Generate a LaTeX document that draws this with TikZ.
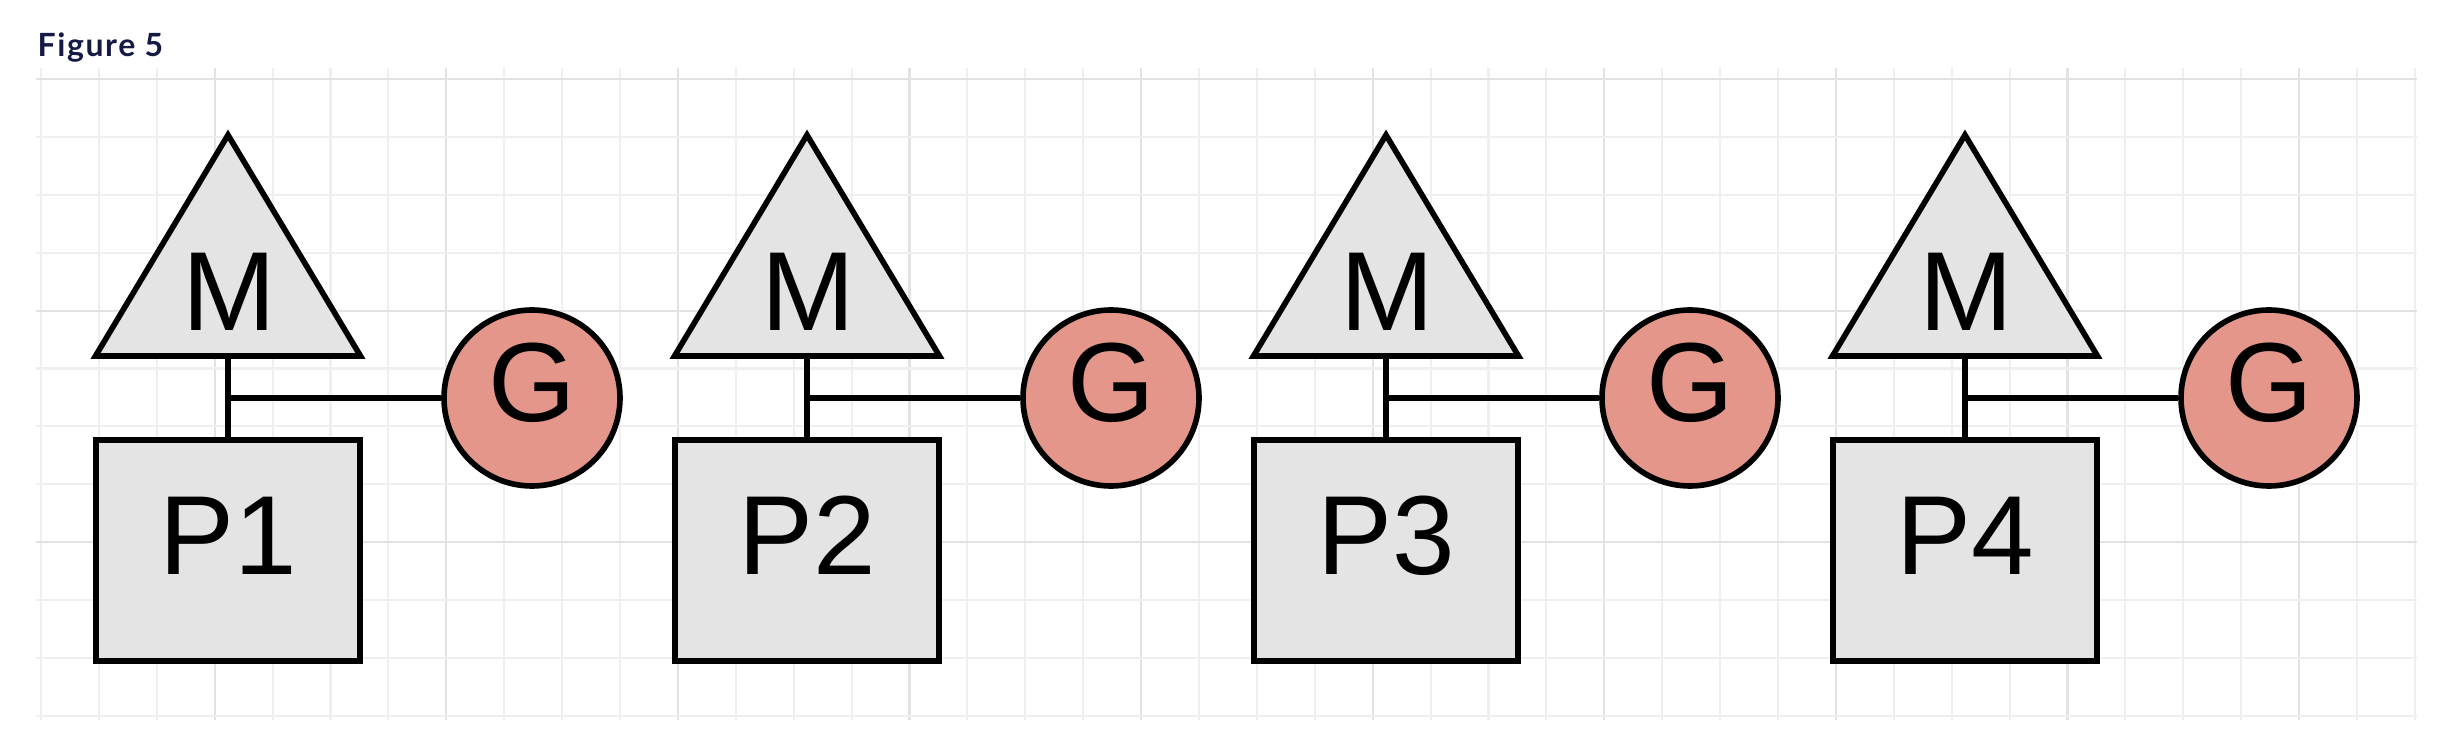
\documentclass[tikz,border=0pt]{standalone}
\usepackage{fontspec}
\setmainfont{Liberation Sans}
\newfontfamily\titlefont[LetterSpace=5]{Lato}
\usetikzlibrary{shapes.geometric}
\definecolor{Navy}{HTML}{151A45}
\definecolor{Shade}{HTML}{E4E4E4}
\definecolor{Salmon}{HTML}{E39689}
\definecolor{GridMinor}{HTML}{EFEFEF}
\definecolor{GridMajor}{HTML}{E2E2E2}
\newcommand{\bigtxt}{\fontsize{32}{36}\selectfont}
\tikzset{gridline/.style={line width=.6pt,draw=GridMinor},link/.style={line width=1.6pt,draw=black},ltxt/.style={font=\bigtxt,inner sep=0pt}}

\begin{document}
\begin{tikzpicture}[
  pbox/.style={draw=black,fill=Shade,line width=1.6pt,minimum width=2.64cm,minimum height=2.21cm,inner sep=0pt,font=\bigtxt,text height=.81cm,text depth=.32cm},
  gdot/.style={circle,draw=black,fill=Salmon,line width=1.6pt,minimum size=1.76cm,inner sep=0pt,font=\bigtxt,text height=.81cm,text depth=.34cm},
  mtri/.style={isosceles triangle,isosceles triangle stretches,shape border rotate=90,draw=black,fill=Shade,line width=1.6pt,minimum width=2.65cm,minimum height=2.21cm,inner sep=0pt,outer sep=0pt,anchor=apex}
]
\useasboundingbox (0,0) rectangle (24.58,7.50);
% background grid
\foreach \k in {0,...,41} \draw[gridline] ({0.41+0.579*\k},0.30) -- ++(0,6.52);
\foreach \k in {3,7,...,39} \draw[gridline,draw=GridMajor] ({0.41+0.579*\k},0.30) -- ++(0,6.52);
\foreach \k in {0,...,11} \draw[gridline] (0.36,{6.71-0.579*\k}) -- (24.17,{6.71-0.579*\k});
\foreach \k in {0,4,8} \draw[gridline,draw=GridMajor] (0.36,{6.71-0.579*\k}) -- (24.17,{6.71-0.579*\k});

\node[anchor=base west,inner sep=0pt,text=Navy,font=\titlefont\bfseries\fontsize{9.1}{11}\selectfont] (title) at (0.37,6.93) {Figure 5};

\node[mtri] (m1) at (2.28,6.15) {};
\node[ltxt] (m1t) at (2.295,4.58) {M};
\node[pbox] (p1) at (2.28,1.995) {P1};
\node[gdot] (g1) at (5.32,3.52) {G};
\draw[link] (m1.lower side)--(p1.north);
\draw[link] (g1.west)--(g1.west -| m1.lower side);

\node[mtri] (m2) at (8.07,6.15) {};
\node[ltxt] (m2t) at (8.085,4.58) {M};
\node[pbox] (p2) at (8.07,1.995) {P2};
\node[gdot] (g2) at (11.11,3.52) {G};
\draw[link] (m2.lower side)--(p2.north);
\draw[link] (g2.west)--(g2.west -| m2.lower side);

\node[mtri] (m3) at (13.86,6.15) {};
\node[ltxt] (m3t) at (13.875,4.58) {M};
\node[pbox] (p3) at (13.86,1.995) {P3};
\node[gdot] (g3) at (16.90,3.52) {G};
\draw[link] (m3.lower side)--(p3.north);
\draw[link] (g3.west)--(g3.west -| m3.lower side);

\node[mtri] (m4) at (19.65,6.15) {};
\node[ltxt] (m4t) at (19.665,4.58) {M};
\node[pbox] (p4) at (19.65,1.995) {P4};
\node[gdot] (g4) at (22.69,3.52) {G};
\draw[link] (m4.lower side)--(p4.north);
\draw[link] (g4.west)--(g4.west -| m4.lower side);
\end{tikzpicture}
\end{document}
